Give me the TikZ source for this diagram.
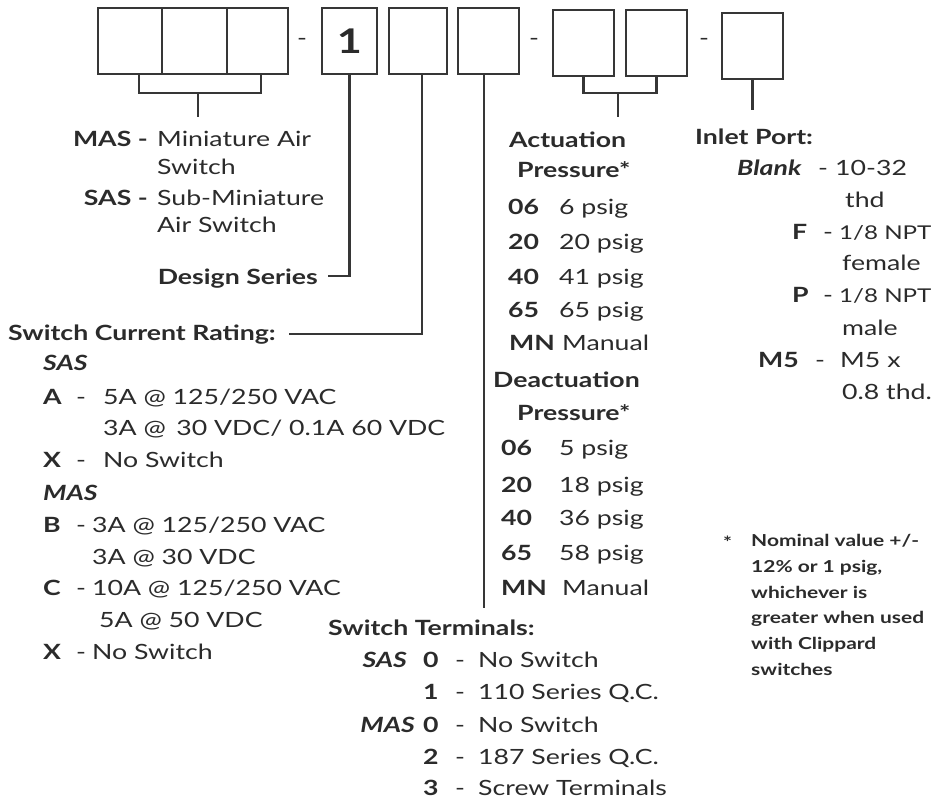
\documentclass[tikz,border=0pt]{standalone}
\usepackage{fontspec}
\setmainfont[FakeStretch=1.27]{Lato}
\definecolor{txt}{HTML}{2B2B2B}
\definecolor{ln}{HTML}{363636}
\begin{document}
\begin{tikzpicture}[x=1pt,y=-1pt,
  lbl/.style={anchor=base west, inner sep=0pt, text=txt, font=\fontsize{21}{25}\selectfont},
  lblb/.style={lbl, font=\fontsize{21}{25}\selectfont\bfseries},
  lblbi/.style={lbl, font=\fontsize{21}{25}\selectfont\bfseries\itshape},
  lbls/.style={lbl, font=\fontsize{19}{25}\selectfont},
  rlbl/.style={lbl, anchor=base east},
  rlblb/.style={lblb, anchor=base east},
  rlblbi/.style={lblbi, anchor=base east},
  note/.style={anchor=base west, inner sep=0pt, text=txt, font=\fontsize{16.5}{26}\selectfont\bfseries},
  codebox/.style={draw=ln, line width=1.8pt, inner sep=0pt, minimum height=66pt},
  conn/.style={draw=ln, line width=2.6pt},
  divl/.style={draw=ln, line width=1.8pt}
]
\useasboundingbox (0,0) rectangle (931,800);

% code boxes
\node[codebox, minimum width=190pt] (b0) at (193,41) {};
\draw[divl] (162,8) -- (162,73);
\draw[divl] (227,8) -- (227,73);
\node[lbl, anchor=center] (d1) at (302,42) {-};
\node[codebox, minimum width=55pt, font=\fontsize{34}{36}\selectfont\bfseries, text=txt] (b1) at (349.5,41) {1};
\node[codebox, minimum width=58pt] (b2) at (418,41) {};
\node[codebox, minimum width=61pt] (b3) at (488.5,41) {};
\node[lbl, anchor=center] (d2) at (534,42) {-};
\node[codebox, minimum width=61pt] (b4) at (583.5,43) {};
\node[codebox, minimum width=61pt] (b5) at (656.5,43) {};
\node[lbl, anchor=center] (d3) at (704,42) {-};
\node[codebox, minimum width=61pt] (b6) at (752.5,46) {};

% left column: model
\node[rlblb] (mas) at (148,146) {MAS -};
\node[lbl] (masd) at (157,146) {Miniature Air};
\node[lbl] (masd2) at (157,174) {Switch};
\node[rlblb] (sas) at (148,205) {SAS -};
\node[lbl] (sasd) at (157,205) {Sub-Miniature};
\node[lbl] (sasd2) at (157,232) {Air Switch};
\node[rlblb] (ds) at (318,284) {Design Series};

% switch current rating
\node[lblb] (scr) at (8,340) {Switch Current Rating:};
\node[lblbi] (scrsas) at (43,370) {SAS};
\node[lblb] (ka) at (43,404) {A};
\node[lbl] (kad) at (76,404) {-};
\node[lbl] (kat) at (103,404) {5A @ 125/250 VAC};
\node[lbl] (kat2) at (103,435) {3A @\enspace 30 VDC/ 0.1A 60 VDC};
\node[lblb] (kx) at (43,467) {X};
\node[lbl] (kxd) at (76,467) {-};
\node[lbl] (kxt) at (103,467) {No Switch};
\node[lblbi] (scrmas) at (43,500) {MAS};
\node[lblb] (kb) at (43,532) {B};
\node[lbl] (kbd) at (76,532) {-};
\node[lbl] (kbt) at (92,532) {3A @ 125/250 VAC};
\node[lbl] (kbt2) at (92,564) {3A @ 30 VDC};
\node[lblb] (kc) at (43,595) {C};
\node[lbl] (kcd) at (76,595) {-};
\node[lbl] (kct) at (92,595) {10A @ 125/250 VAC};
\node[lbl] (kct2) at (99,627) {5A @ 50 VDC};
\node[lblb] (kx2) at (43,659) {X};
\node[lbl] (kx2d) at (76,659) {-};
\node[lbl] (kx2t) at (92,659) {No Switch};

% switch terminals
\node[lblb] (st) at (328,635) {Switch Terminals:};
\node[rlblbi] (stsas) at (407,667) {SAS};
\node[lblb] (t0) at (423,667) {0};
\node[lbl] (t0d) at (455,667) {-};
\node[lbl] (t0t) at (478,667) {No Switch};
\node[lblb] (t1) at (423,699) {1};
\node[lbl] (t1d) at (455,699) {-};
\node[lbl] (t1t) at (478,699) {110 Series Q.C.};
\node[rlblbi] (stmas) at (415,732) {MAS};
\node[lblb] (t0b) at (423,732) {0};
\node[lbl] (t0bd) at (455,732) {-};
\node[lbl] (t0bt) at (478,732) {No Switch};
\node[lblb] (t2) at (423,764) {2};
\node[lbl] (t2d) at (455,764) {-};
\node[lbl] (t2t) at (478,764) {187 Series Q.C.};
\node[lblb] (t3) at (423,795) {3};
\node[lbl] (t3d) at (455,795) {-};
\node[lbl] (t3t) at (478,795) {Screw Terminals};

% actuation pressure
\node[lblb] (act) at (509,147) {Actuation};
\node[lblb] (actp) at (517,177) {Pressure*};
\node[lblb] (a06) at (508,214) {06};
\node[lbl] (a06t) at (559,214) {6 psig};
\node[lblb] (a20) at (508,249) {20};
\node[lbl] (a20t) at (559,249) {20 psig};
\node[lblb] (a40) at (508,284) {40};
\node[lbl] (a40t) at (559,284) {41 psig};
\node[lblb] (a65) at (508,317) {65};
\node[lbl] (a65t) at (559,317) {65 psig};
\node[lblb] (amn) at (509,350) {MN};
\node[lbl] (amnt) at (562,350) {Manual};
\node[lblb] (deact) at (493,387) {Deactuation};
\node[lblb] (deactp) at (517,420) {Pressure*};
\node[lblb] (e06) at (501,455) {06};
\node[lbl] (e06t) at (559,455) {5 psig};
\node[lblb] (e20) at (501,492) {20};
\node[lbl] (e20t) at (559,492) {18 psig};
\node[lblb] (e40) at (501,525) {40};
\node[lbl] (e40t) at (559,525) {36 psig};
\node[lblb] (e65) at (501,560) {65};
\node[lbl] (e65t) at (559,560) {58 psig};
\node[lblb] (emn) at (501,595) {MN};
\node[lbl] (emnt) at (562,595) {Manual};

% inlet port
\node[lblb] (ip) at (695,144) {Inlet Port:};
\node[lblbi] (ipb) at (737,175) {Blank};
\node[lbl] (ipbd) at (818,175) {-};
\node[lbl] (ipbt) at (835,175) {10-32};
\node[lbl] (ipbt2) at (845,207) {thd};
\node[lblb] (ipf) at (792,239) {F};
\node[lbl] (ipfd) at (823,239) {-};
\node[lbls] (ipft) at (839,239) {1/8 NPT};
\node[lbl] (ipft2) at (842,270) {female};
\node[lblb] (ipp) at (792,302) {P};
\node[lbl] (ippd) at (823,302) {-};
\node[lbls] (ippt) at (839,302) {1/8 NPT};
\node[lbl] (ippt2) at (842,335) {male};
\node[lblb] (ipm) at (758,367) {M5};
\node[lbl] (ipmd) at (815,367) {-};
\node[lbl] (ipmt) at (840,367) {M5 x};
\node[lbl] (ipmt2) at (842,399) {0.8 thd.};

% footnote
\node[note] (fs) at (723,548) {*};
\node[note] (f1) at (751,546) {Nominal value +/-};
\node[note] (f2) at (751,572) {12\% or 1 psig,};
\node[note] (f3) at (751,598) {whichever is};
\node[note] (f4) at (751,623) {greater when used};
\node[note] (f5) at (751,649) {with Clippard};
\node[note] (f6) at (751,675) {switches};

% connectors
\coordinate (s0) at (198,117);
\coordinate (s45) at (618,117);
\coordinate (s6) at (752,110);
\draw[conn] ([xshift=-54pt]b0.south) |- ([xshift=68pt]b0.south |- 0,93) -- ([xshift=68pt]b0.south);
\draw[conn] (s0 |- 0,93) -- (s0);
\draw[conn] (b4.south) |- (b5.south |- 0,93) -- (b5.south);
\draw[conn] (s45 |- 0,93) -- (s45);
\draw[conn] (b6.south) -- (b6.south |- s6);
\draw[conn] (b1.south) |- ([xshift=10pt]ds.east |- 0,276);
\draw[conn] ([xshift=4pt]b2.south) |- ([xshift=13pt]scr.east |- 0,334);
\draw[conn] ([xshift=-4.5pt]b3.south) -- ([xshift=-4.5pt]b3.south |- 0,608);
\end{tikzpicture}
\end{document}
